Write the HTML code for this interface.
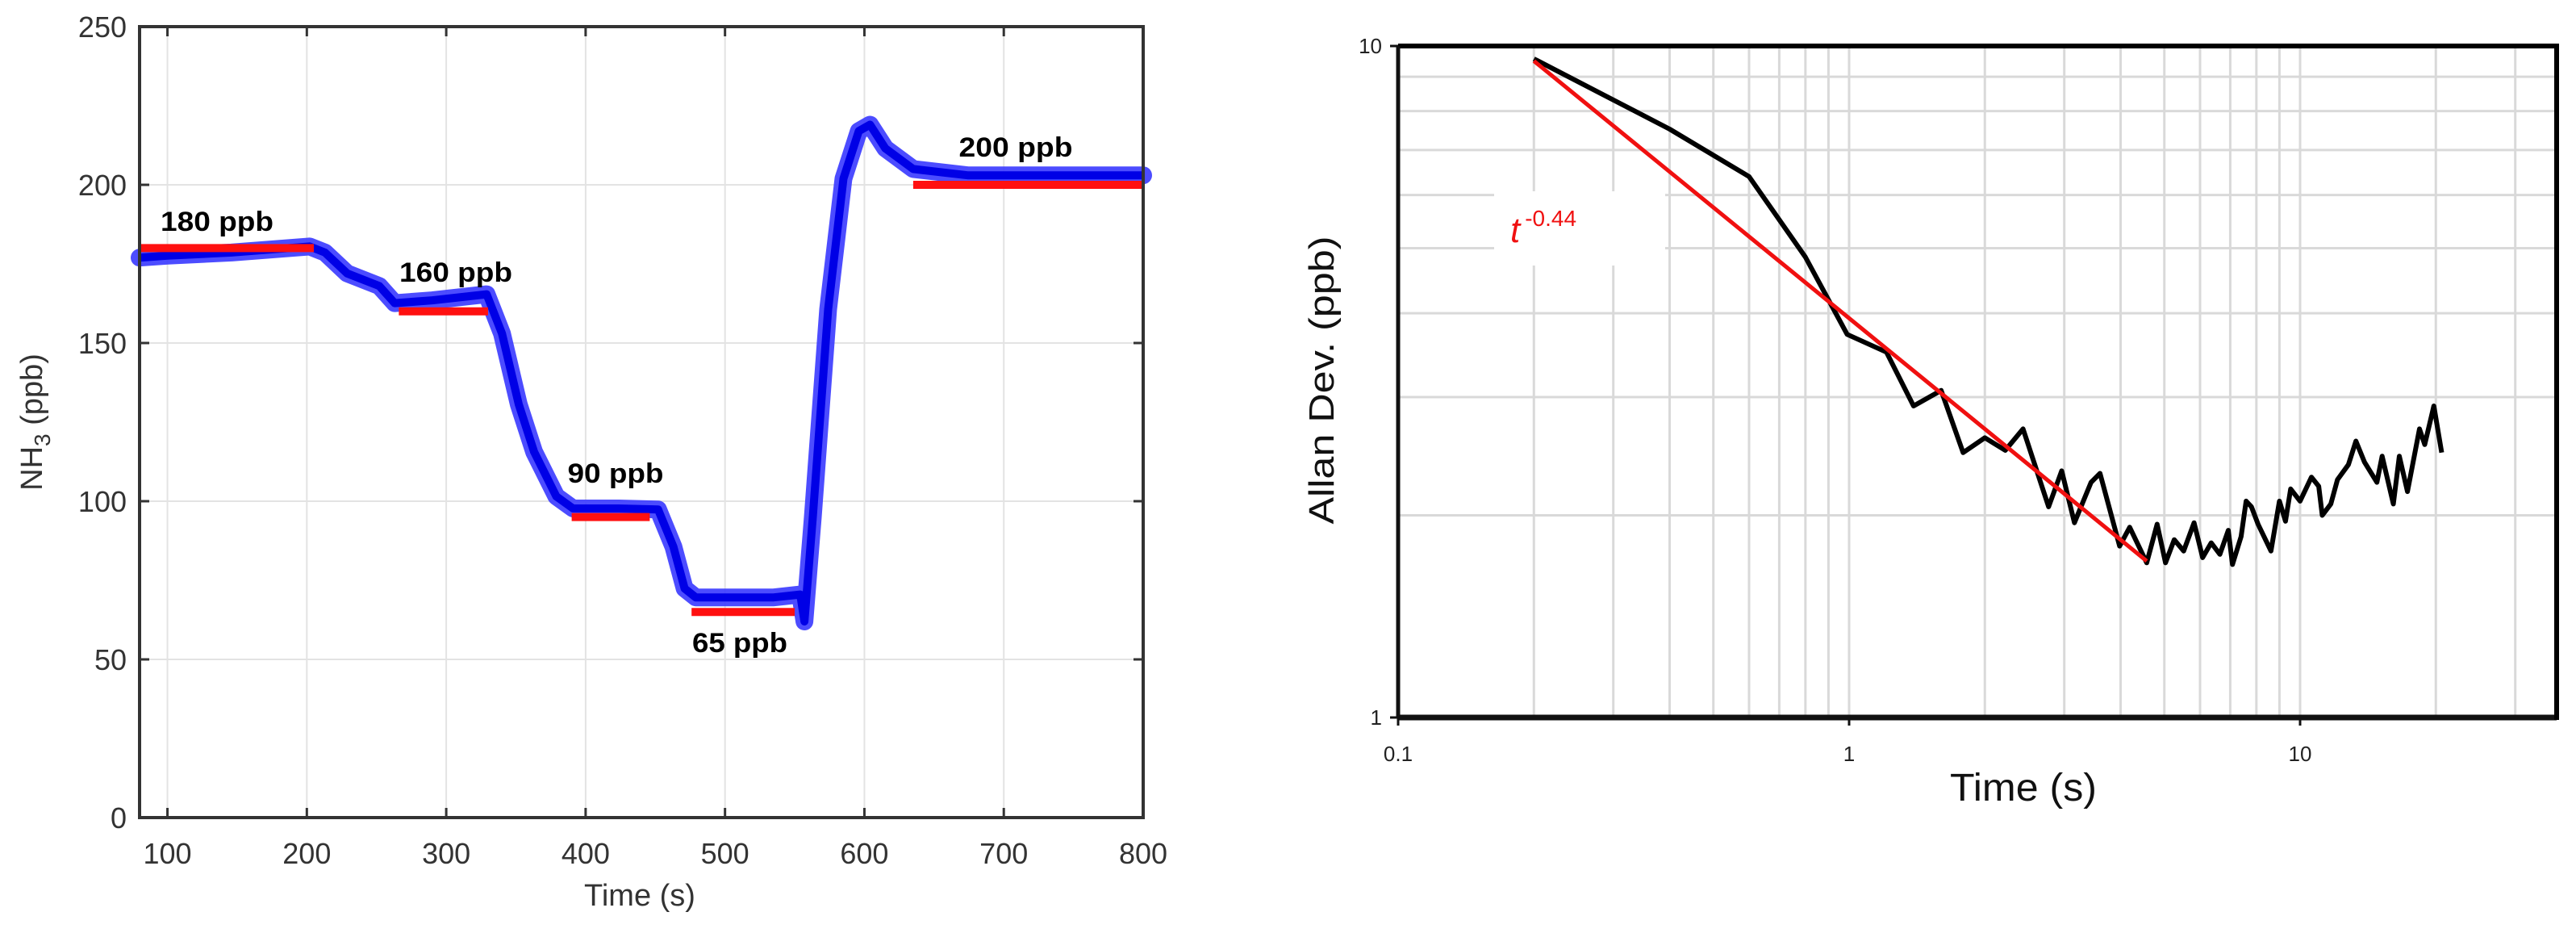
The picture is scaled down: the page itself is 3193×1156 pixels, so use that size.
<!DOCTYPE html>
<html><head><meta charset="utf-8"><style>
html,body{margin:0;padding:0;background:#fff;}
svg{display:block;font-family:"Liberation Sans",Arial,sans-serif;}
</style></head><body>
<svg id="s" width="3193" height="1156" viewBox="0 0 3193 1156" xmlns="http://www.w3.org/2000/svg">
<g id="L"></g>
<g id="R"></g>
</svg>
<script>
// ---------- Left chart data ----------
const xTicksL = [100,200,300,400,500,600,700,800];
const yTicksL = [0,50,100,150,200,250];
const nh3Time = [80,100,146,202,213,229,252,263,290,329,340,352,363,379,391,424,452,463,471,479,535,554,557,563,574,585,596,604,615,635,674,800];
const nh3Value = [177,177.6,178.6,180.5,178.6,172,168,162.6,163.5,165.4,153,130.6,115.6,101.5,97.7,97.7,97.4,85.6,72.4,69.6,69.6,70.5,62,95,160.7,202,217,219,211.5,205,203,203];
const refStart = [80,266,390,476,635];
const refEnd = [205,330,446,550,800];
const refValue = [180,160,95,65,200];
const annText = ["180 ppb","160 ppb","90 ppb","65 ppb","200 ppb"];
const annX = [269,565,763,917,1259];
const annY = [274,337,586,796,182];
const annW = [140,140,119,118,141];

// ---------- Right chart data ----------
const xTickValsR = [0.1,1,10];
const xTickLabR = ["0.1","1","10"];
const yTickValsR = [1,10];
const yTickLabR = ["1","10"];
const vGridR = [0.2,0.3,0.4,0.5,0.6,0.7,0.8,0.9,2,3,4,5,6,7,8,9,20,30];
const hGridR = [2,3,4,5,6,7,8,9];
const tau = [0.2,0.4,0.6,0.8,0.99,1.21,1.39,1.6,1.79,2.0,2.22,2.43,2.77,2.96,3.16,3.44,3.6,3.98,4.19,4.57,4.82,5.03,5.26,5.52,5.82,6.08,6.35,6.64,6.93,7.08,7.4,7.59,7.8,8.07,8.62,9.0,9.28,9.53,10.0,10.6,11.0,11.2,11.7,12.1,12.8,13.3,13.9,14.8,15.2,16.1,16.6,17.3,18.4,18.9,19.8,20.6];
const adev = [9.57,7.52,6.39,4.85,3.72,3.5,2.91,3.07,2.48,2.61,2.5,2.69,2.06,2.33,1.95,2.24,2.31,1.8,1.92,1.7,1.94,1.7,1.84,1.77,1.95,1.73,1.82,1.75,1.9,1.69,1.86,2.1,2.06,1.94,1.77,2.1,1.96,2.19,2.1,2.28,2.21,2.0,2.08,2.26,2.38,2.58,2.4,2.24,2.45,2.08,2.45,2.17,2.69,2.55,2.91,2.48];
const fitTau = [0.2,4.57];
const fitVal = [9.5,1.71];

const NS="http://www.w3.org/2000/svg";
function mk(p,tag,at,txt){const e=document.createElementNS(NS,tag);for(const k in at)e.setAttribute(k,at[k]);if(txt!==undefined)e.textContent=txt;p.appendChild(e);return e;}

// ===== Left =====
const L=document.getElementById('L');
const lx0=173,lx1=1417,ly0=33,ly1=1013,tmin=80,tmax=800,vmin=0,vmax=250;
const X=t=>lx0+(t-tmin)/(tmax-tmin)*(lx1-lx0);
const Y=v=>ly1-(v-vmin)/(vmax-vmin)*(ly1-ly0);
xTicksL.forEach(t=>{
  const g=mk(L,'line',{x1:X(t),x2:X(t),y1:ly0,y2:ly1,stroke:'#e3e3e3','stroke-width':2});
  
  
  mk(L,'line',{x1:X(t),x2:X(t),y1:ly1,y2:ly1-12,stroke:'#333','stroke-width':3});
  mk(L,'line',{x1:X(t),x2:X(t),y1:ly0,y2:ly0+12,stroke:'#333','stroke-width':3});
  const tx=mk(L,'text',{x:X(t),y:1070,'font-size':36,fill:'#333','text-anchor':'middle'},String(t));
  
  
});
yTicksL.forEach(v=>{
  const g=mk(L,'line',{x1:lx0,x2:lx1,y1:Y(v),y2:Y(v),stroke:'#e3e3e3','stroke-width':2});
  
  
  mk(L,'line',{x1:lx0,x2:lx0+12,y1:Y(v),y2:Y(v),stroke:'#333','stroke-width':3});
  mk(L,'line',{x1:lx1,x2:lx1-12,y1:Y(v),y2:Y(v),stroke:'#333','stroke-width':3});
  const tx=mk(L,'text',{x:157,y:Y(v)+13,'font-size':36,fill:'#333','text-anchor':'end'},String(v));
  
  
});
let pts=nh3Time.map((t,i)=>X(t).toFixed(1)+','+Y(nh3Value[i]).toFixed(1)).join(' ');
const band=mk(L,'polyline',{points:pts,fill:'none',stroke:'#3838ff','stroke-width':22,'stroke-linejoin':'round','stroke-linecap':'round','stroke-opacity':0.9});


const core=mk(L,'polyline',{points:pts,fill:'none',stroke:'#0000e6','stroke-width':10,'stroke-linejoin':'round'});


refValue.forEach((v,i)=>{
  const r=mk(L,'line',{x1:X(refStart[i]),x2:X(refEnd[i]),y1:Y(v),y2:Y(v),stroke:'#ff1010','stroke-width':10});
  
  
});
annText.forEach((s,i)=>{
  const a=mk(L,'text',{x:annX[i],y:annY[i]+12,'font-size':34,'font-weight':'bold',fill:'#000','text-anchor':'middle',textLength:annW[i],lengthAdjust:'spacingAndGlyphs'},s);
  
  
});
const fr=mk(L,'rect',{x:lx0,y:ly0,width:lx1-lx0,height:ly1-ly0,fill:'none',stroke:'#333','stroke-width':4});


const xl=mk(L,'text',{x:793,y:1122,'font-size':38,fill:'#333','text-anchor':'middle'},'Time (s)');


const yl=mk(L,'text',{x:0,y:0,'font-size':38,fill:'#333','text-anchor':'middle',transform:'translate(52,523) rotate(-90)'});


mk(yl,'tspan',{},'NH');mk(yl,'tspan',{'font-size':28,dy:10},'3');mk(yl,'tspan',{dy:-10},' (ppb)');

// ===== Right =====
const R=document.getElementById('R');
const rx0=1733,rx1=3169,ry0=57,ry1=889;
const dec=559;
const XR=t=>rx0+(Math.log10(t)+1)*dec;
const YR=v=>ry1-Math.log10(v)*(ry1-ry0);
vGridR.forEach(t=>{
  const g=mk(R,'line',{x1:XR(t),x2:XR(t),y1:ry0,y2:ry1,stroke:'#d9d9d9','stroke-width':3});
  
  
});
[1,10].forEach(t=>{mk(R,'line',{x1:XR(t),x2:XR(t),y1:ry0,y2:ry1,stroke:'#d9d9d9','stroke-width':3});});
hGridR.forEach(v=>{
  const g=mk(R,'line',{x1:rx0,x2:rx1,y1:YR(v),y2:YR(v),stroke:'#d9d9d9','stroke-width':3});
  
  
});
const wb=mk(R,'rect',{x:1852,y:237,width:212,height:92,fill:'#fff'});


const ad=mk(R,'polyline',{points:tau.map((t,i)=>XR(t).toFixed(1)+','+YR(adev[i]).toFixed(1)).join(' '),fill:'none',stroke:'#000','stroke-width':6,'stroke-linejoin':'round'});


const fit=mk(R,'line',{x1:XR(fitTau[0]),y1:YR(fitVal[0]),x2:XR(fitTau[1]),y2:YR(fitVal[1]),stroke:'#f01010','stroke-width':5});


const ft=mk(R,'text',{x:1872,y:300,fill:'#f01010','font-size':44,'font-style':'italic'});


mk(ft,'tspan',{},'t');mk(ft,'tspan',{'font-size':28,'font-style':'normal',dy:-20,dx:6},'-0.44');
mk(R,'line',{x1:rx0,x2:rx1,y1:ry0,y2:ry0,stroke:'#000','stroke-width':6});
mk(R,'line',{x1:rx0,x2:rx1,y1:ry1,y2:ry1,stroke:'#111','stroke-width':7});
mk(R,'line',{x1:rx0,x2:rx0,y1:ry0,y2:ry1,stroke:'#111','stroke-width':5});
mk(R,'line',{x1:rx1,x2:rx1,y1:ry0-3,y2:ry1+3,stroke:'#000','stroke-width':6});
xTickValsR.forEach((t,i)=>{
  mk(R,'line',{x1:XR(t),x2:XR(t),y1:ry1,y2:ry1+10,stroke:'#111','stroke-width':3});
  const tx=mk(R,'text',{x:XR(t),y:943,'font-size':26,fill:'#222','text-anchor':'middle'},xTickLabR[i]);
  
  
});
yTickValsR.forEach((v,i)=>{
  mk(R,'line',{x1:rx0-10,x2:rx0,y1:YR(v),y2:YR(v),stroke:'#111','stroke-width':3});
  const tx=mk(R,'text',{x:rx0-20,y:YR(v)+9,'font-size':26,fill:'#222','text-anchor':'end'},yTickLabR[i]);
  
  
});
const rxl=mk(R,'text',{x:2508,y:992,'font-size':48,fill:'#111','text-anchor':'middle',textLength:182,lengthAdjust:'spacingAndGlyphs'},'Time (s)');


const ryl=mk(R,'text',{x:0,y:0,'font-size':44,fill:'#111','text-anchor':'middle',textLength:357,lengthAdjust:'spacingAndGlyphs',transform:'translate(1653,471) rotate(-90)'},'Allan Dev. (ppb)');


</script>
</body></html>
